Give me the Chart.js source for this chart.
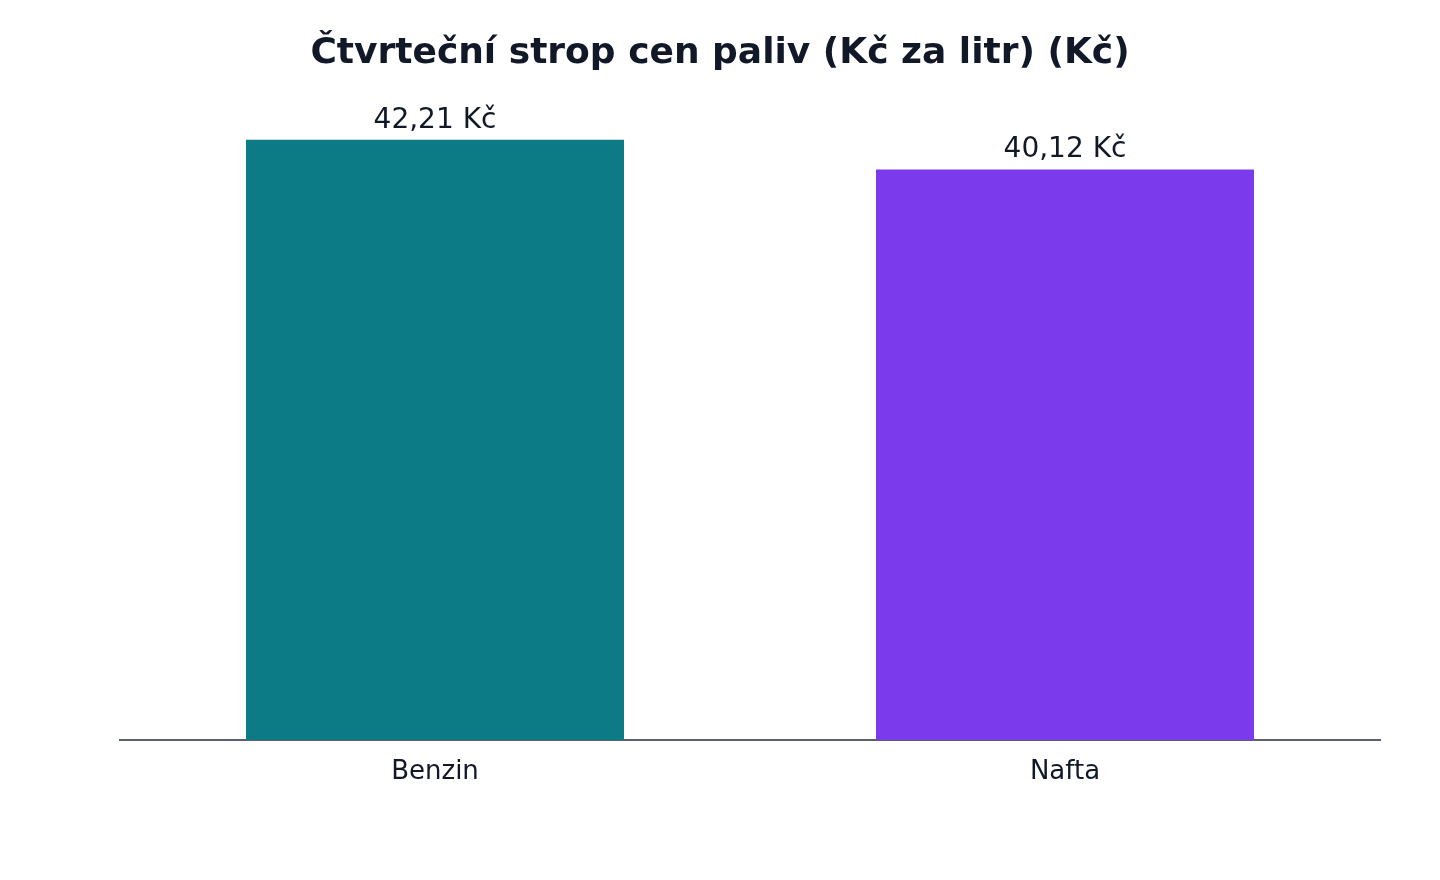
<!DOCTYPE html>
<html>
<head>
<meta charset="utf-8">
<script src="https://cdn.jsdelivr.net/npm/chart.js@4/dist/chart.umd.min.js"></script>
<style>
html,body{margin:0;padding:0;background:#fff;}
#wrap{width:1440px;height:880px;position:relative;}
</style>
</head>
<body>
<div id="wrap"><canvas id="c" width="1440" height="880"></canvas></div>
<script>
const titleText = 'Čtvrteční strop cen paliv (Kč za litr) (Kč)';
const categories = ['Benzin', 'Nafta'];
const prices = [42.21, 40.12];
const barColors = ['#0c7b85', '#7c3aed'];
const yMax = 45;

const FONT = "'DejaVu Sans', sans-serif";
const TEXT = '#111827';

const valueLabels = {
  id: 'valueLabels',
  afterDatasetsDraw(chart) {
    const ctx = chart.ctx;
    const meta = chart.getDatasetMeta(0);
    ctx.save();
    ctx.font = '28px ' + FONT;
    ctx.fillStyle = TEXT;
    ctx.textAlign = 'center';
    ctx.textBaseline = 'alphabetic';
    meta.data.forEach((bar, i) => {
      const v = prices[i].toFixed(2).replace('.', ',') + ' Kč';
      ctx.fillText(v, bar.x, bar.y - 12);
    });
    ctx.restore();
  }
};

new Chart(document.getElementById('c'), {
  type: 'bar',
  data: {
    labels: categories,
    datasets: [{
      data: prices,
      backgroundColor: barColors,
      borderWidth: 0,
      barPercentage: 0.6,
      categoryPercentage: 1
    }]
  },
  options: {
    responsive: false,
    animation: false,
    layout: { padding: { left: 60, right: 60, top: 0, bottom: 0 } },
    plugins: {
      legend: { display: false },
      tooltip: { enabled: false },
      title: {
        display: true,
        text: titleText,
        color: TEXT,
        font: { family: FONT, size: 36, weight: 'bold', lineHeight: 1.2 },
        padding: { top: 32, bottom: 24.8 }
      }
    },
    scales: {
      x: {
        grid: { display: false, drawTicks: false },
        border: { display: true, color: '#5b6072', width: 2 },
        ticks: { color: TEXT, font: { family: FONT, size: 26 }, padding: 17 },
        afterFit(s) { s.height = 140; }
      },
      y: {
        display: true,
        min: 0,
        max: yMax,
        grid: { display: false, drawTicks: false },
        border: { display: false },
        ticks: { display: false },
        afterFit(s) { s.width = 60; }
      }
    }
  },
  plugins: [valueLabels]
});
</script>
</body>
</html>
